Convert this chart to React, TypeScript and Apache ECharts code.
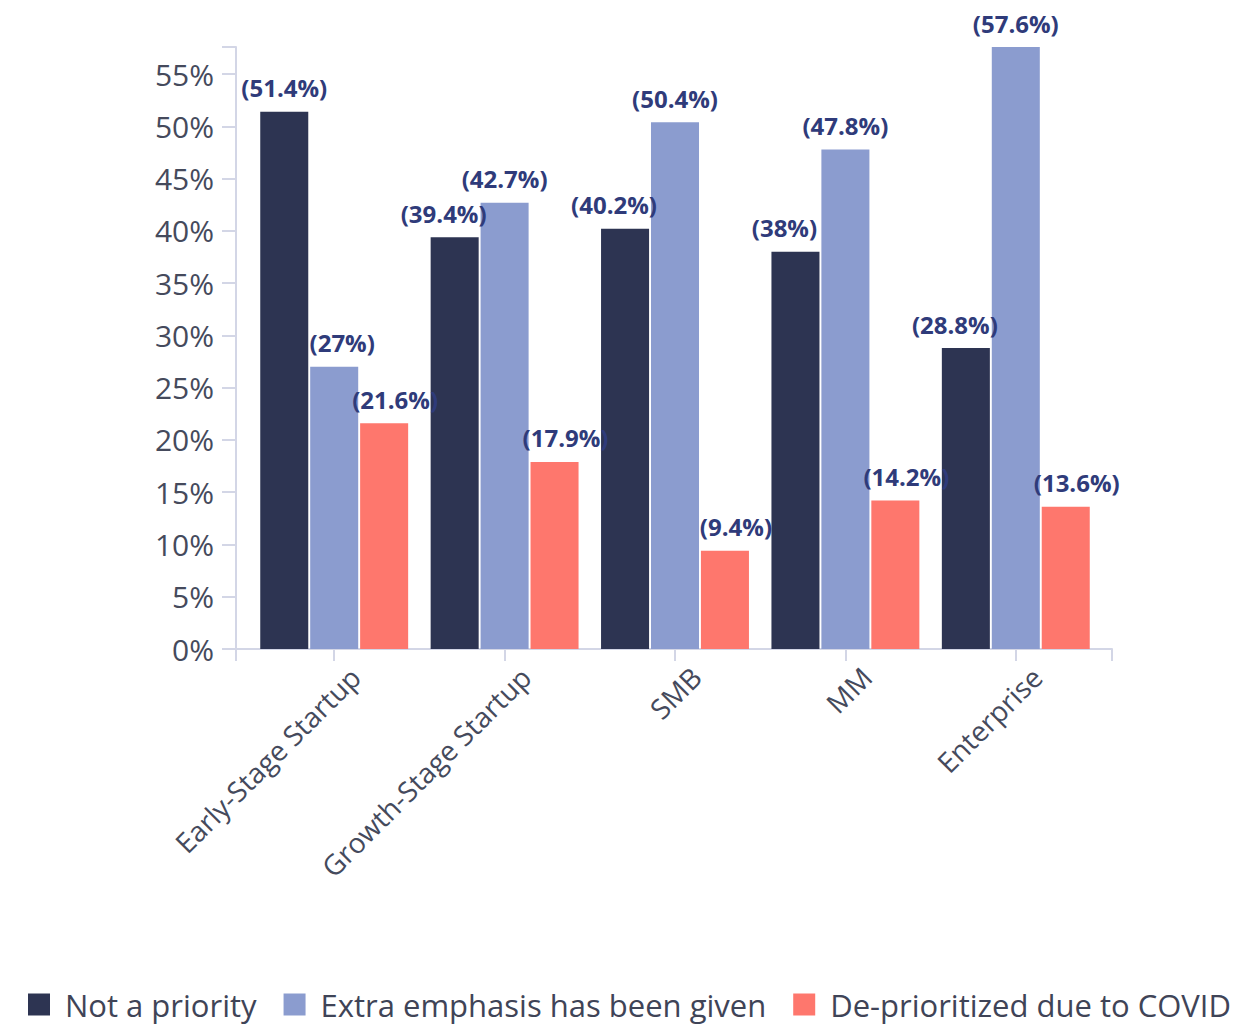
import React, { useEffect, useRef } from "react";
import * as echarts from "echarts";

const categories = ["Early-Stage Startup", "Growth-Stage Startup", "SMB", "MM", "Enterprise"];
const notPriority = [51.4, 39.4, 40.2, 38, 28.8];
const extraEmphasis = [27, 42.7, 50.4, 47.8, 57.6];
const dePrioritized = [21.6, 17.9, 9.4, 14.2, 13.6];
const seriesNames = ["Not a priority", "Extra emphasis has been given", "De-prioritized due to COVID"];
const colors = ["#2d3452", "#8b9ccf", "#fe776d"];

const FONT = "'Open Sans', sans-serif";
const AXIS_COLOR = "#d3d6e6";
const TEXT_COLOR = "#454a5c";
const LABEL_COLOR = "#2f3b7a";

export default function App() {
  const ref = useRef<HTMLDivElement>(null);
  useEffect(() => {
    document.body.style.margin = "0";
    if (!ref.current) return;
    const chart = echarts.init(ref.current, null, { renderer: "svg" });
    const yMax = Math.max(...notPriority, ...extraEmphasis, ...dePrioritized);
    const labelBase = {
      show: true,
      position: "top",
      distance: 12,
      formatter: (p: any) => `(${p.value}%)`,
      fontFamily: FONT,
      fontWeight: "bold",
      fontSize: 24,
      color: LABEL_COLOR,
    };
    const makeSeries = (name: string, data: any[], color: string, offset: number[]) => ({
      name,
      type: "bar",
      xAxisIndex: 1,
      yAxisIndex: 1,
      data,
      barGap: "4%",
      barCategoryGap: "13.2%",
      itemStyle: { color },
      label: { ...labelBase, offset },
    });
    const darkData = notPriority.map((v, i) => (i === 0 ? { value: v, label: { offset: [0, 0] } } : v));
    const blueData = extraEmphasis.map((v, i) => (i === 0 ? { value: v, label: { offset: [8, 0] } } : v));
    chart.setOption({
      animation: false,
      textStyle: { fontFamily: FONT },
      legend: {
        bottom: 0,
        left: 23,
        itemWidth: 22,
        itemHeight: 22,
        itemGap: 27,
        icon: "rect",
        textStyle: { fontSize: 31, color: "#3f4457", fontFamily: FONT, padding: [0, 0, 0, 10] },
        data: seriesNames,
      },
      grid: [
        { left: 236, right: 145, top: 47, bottom: 376 },
        { left: 249, right: 156, top: 47, bottom: 376 },
        { left: 270, right: 135, top: 47, bottom: 376 },
      ],
      xAxis: [
        {
          gridIndex: 0,
          type: "value",
          min: 0,
          max: 1,
          interval: 1,
          axisLine: { show: true, lineStyle: { color: AXIS_COLOR, width: 2 } },
          axisTick: { show: true, length: 12, lineStyle: { color: AXIS_COLOR, width: 2 } },
          axisLabel: { show: false },
          splitLine: { show: false },
        },
        {
          gridIndex: 1,
          type: "category",
          data: categories,
          axisLine: { show: false },
          axisTick: { show: true, alignWithLabel: true, length: 12, lineStyle: { color: AXIS_COLOR, width: 2 } },
          axisLabel: { show: false },
        },
        {
          gridIndex: 2,
          type: "category",
          data: categories,
          axisLine: { show: false },
          axisTick: { show: false },
          axisLabel: {
            rotate: 45,
            margin: 23,
            fontSize: 28,
            color: TEXT_COLOR,
            fontFamily: FONT,
            interval: 0,
          },
        },
      ],
      yAxis: [
        {
          gridIndex: 0,
          type: "value",
          min: 0,
          max: yMax,
          interval: 5,
          axisLine: { show: true, lineStyle: { color: AXIS_COLOR, width: 2 } },
          axisTick: { show: true, length: 14, lineStyle: { color: AXIS_COLOR, width: 2 } },
          axisLabel: {
            margin: 22,
            fontSize: 30,
            color: TEXT_COLOR,
            fontFamily: FONT,
            formatter: (v: number) => (v > 55 ? "" : `${v}%`),
          },
          splitLine: { show: false },
        },
        { gridIndex: 1, type: "value", min: 0, max: yMax, show: false },
        { gridIndex: 2, type: "value", min: 0, max: yMax, show: false },
      ],
      series: [
        makeSeries(seriesNames[0], darkData, colors[0], [-11, 0]),
        makeSeries(seriesNames[1], blueData, colors[1], [0, 0]),
        makeSeries(seriesNames[2], dePrioritized, colors[2], [11, 0]),
      ],
    });
    return () => chart.dispose();
  }, []);
  return <div ref={ref} style={{ width: 1257, height: 1025 }} />;
}
